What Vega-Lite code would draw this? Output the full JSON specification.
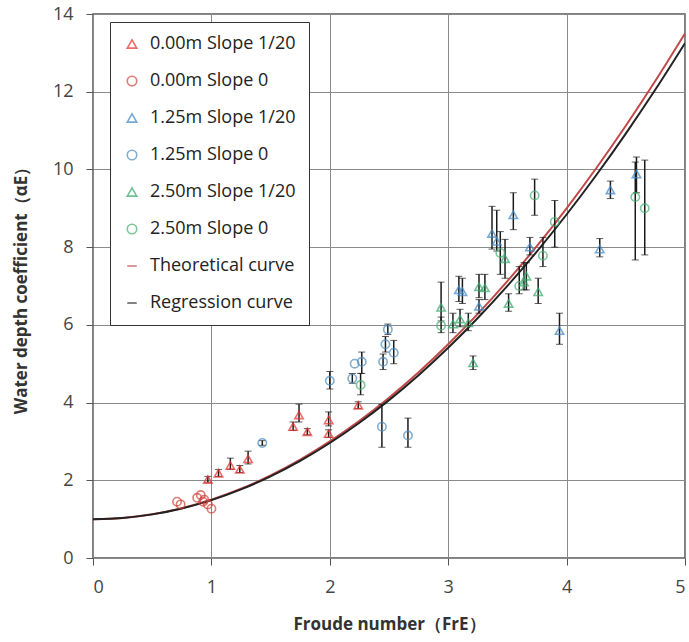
{
  "$schema": "https://vega.github.io/schema/vega-lite/v6.json",
  "width": 592,
  "height": 544,
  "autosize": {"type": "none"},
  "padding": {"left": 93, "top": 14, "right": 4, "bottom": 84},
  "background": "white",
  "config": {
    "font": "Open Sans",
    "view": {"stroke": "#555555", "strokeWidth": 1.5},
    "axis": {
      "domain": false,
      "gridColor": "#8a8a8a",
      "gridWidth": 1,
      "gridOpacity": 1,
      "tickColor": "#555555",
      "tickSize": 7,
      "labelFontSize": 18,
      "labelColor": "#444444",
      "labelPadding": 13,
      "titleFontSize": 17,
      "titleFontWeight": "bold",
      "titleColor": "#333333"
    },
    "axisX": {"titlePadding": 20},
    "axisY": {"titlePadding": 22},
    "legend": {
      "orient": "none",
      "legendX": 17,
      "legendY": 8,
      "padding": 13,
      "strokeColor": "#333333",
      "fillColor": "white",
      "labelFontSize": 18,
      "labelColor": "#222222",
      "labelOffset": 9,
      "rowPadding": 19,
      "symbolSize": 90,
      "symbolStrokeWidth": 1.6,
      "labelLimit": 300
    }
  },
  "datasets": {
    "pts": [
      {"fr": 0.97, "a": 2.02, "lo": 1.95, "hi": 2.1, "series": "0.00m Slope 1/20"},
      {"fr": 1.06, "a": 2.18, "lo": 2.1, "hi": 2.28, "series": "0.00m Slope 1/20"},
      {"fr": 1.16, "a": 2.38, "lo": 2.28, "hi": 2.57, "series": "0.00m Slope 1/20"},
      {"fr": 1.24, "a": 2.28, "lo": 2.2, "hi": 2.38, "series": "0.00m Slope 1/20"},
      {"fr": 1.31, "a": 2.55, "lo": 2.42, "hi": 2.75, "series": "0.00m Slope 1/20"},
      {"fr": 1.69, "a": 3.38, "lo": 3.28, "hi": 3.5, "series": "0.00m Slope 1/20"},
      {"fr": 1.74, "a": 3.68, "lo": 3.5, "hi": 3.96, "series": "0.00m Slope 1/20"},
      {"fr": 1.81, "a": 3.25, "lo": 3.17, "hi": 3.33, "series": "0.00m Slope 1/20"},
      {"fr": 1.99, "a": 3.55, "lo": 3.4, "hi": 3.76, "series": "0.00m Slope 1/20"},
      {"fr": 1.99, "a": 3.2, "lo": 3.1, "hi": 3.3, "series": "0.00m Slope 1/20"},
      {"fr": 2.24, "a": 3.93, "lo": 3.85, "hi": 4.02, "series": "0.00m Slope 1/20"},
      {"fr": 0.71, "a": 1.45, "lo": null, "hi": null, "series": "0.00m Slope 0"},
      {"fr": 0.74, "a": 1.38, "lo": null, "hi": null, "series": "0.00m Slope 0"},
      {"fr": 0.88, "a": 1.55, "lo": null, "hi": null, "series": "0.00m Slope 0"},
      {"fr": 0.91, "a": 1.62, "lo": null, "hi": null, "series": "0.00m Slope 0"},
      {"fr": 0.94, "a": 1.5, "lo": null, "hi": null, "series": "0.00m Slope 0"},
      {"fr": 0.93, "a": 1.45, "lo": null, "hi": null, "series": "0.00m Slope 0"},
      {"fr": 0.97, "a": 1.38, "lo": null, "hi": null, "series": "0.00m Slope 0"},
      {"fr": 1.0, "a": 1.27, "lo": null, "hi": null, "series": "0.00m Slope 0"},
      {"fr": 3.09, "a": 6.9, "lo": 6.6, "hi": 7.25, "series": "1.25m Slope 1/20"},
      {"fr": 3.12, "a": 6.85, "lo": 6.55, "hi": 7.2, "series": "1.25m Slope 1/20"},
      {"fr": 3.26, "a": 6.48, "lo": 6.3, "hi": 6.65, "series": "1.25m Slope 1/20"},
      {"fr": 3.37, "a": 8.35, "lo": 7.95, "hi": 9.05, "series": "1.25m Slope 1/20"},
      {"fr": 3.41, "a": 8.15, "lo": 7.9, "hi": 8.95, "series": "1.25m Slope 1/20"},
      {"fr": 3.55, "a": 8.83, "lo": 8.45, "hi": 9.4, "series": "1.25m Slope 1/20"},
      {"fr": 3.69, "a": 8.0, "lo": 7.8, "hi": 8.25, "series": "1.25m Slope 1/20"},
      {"fr": 3.94, "a": 5.85, "lo": 5.5, "hi": 6.3, "series": "1.25m Slope 1/20"},
      {"fr": 4.28, "a": 7.95, "lo": 7.75, "hi": 8.22, "series": "1.25m Slope 1/20"},
      {"fr": 4.37, "a": 9.47, "lo": 9.25, "hi": 9.7, "series": "1.25m Slope 1/20"},
      {"fr": 4.59, "a": 9.88, "lo": 9.4, "hi": 10.32, "series": "1.25m Slope 1/20"},
      {"fr": 1.43, "a": 2.96, "lo": 2.9, "hi": 3.02, "series": "1.25m Slope 0"},
      {"fr": 2.0, "a": 4.56, "lo": 4.35, "hi": 4.8, "series": "1.25m Slope 0"},
      {"fr": 2.19, "a": 4.62, "lo": 4.5, "hi": 4.75, "series": "1.25m Slope 0"},
      {"fr": 2.21, "a": 5.0, "lo": null, "hi": null, "series": "1.25m Slope 0"},
      {"fr": 2.27, "a": 5.05, "lo": 4.75, "hi": 5.3, "series": "1.25m Slope 0"},
      {"fr": 2.45, "a": 5.05, "lo": 4.85, "hi": 5.25, "series": "1.25m Slope 0"},
      {"fr": 2.47, "a": 5.5, "lo": 5.3, "hi": 5.7, "series": "1.25m Slope 0"},
      {"fr": 2.49, "a": 5.88, "lo": 5.75, "hi": 6.02, "series": "1.25m Slope 0"},
      {"fr": 2.54, "a": 5.28, "lo": 5.0, "hi": 5.6, "series": "1.25m Slope 0"},
      {"fr": 2.44, "a": 3.38, "lo": 2.85, "hi": 3.95, "series": "1.25m Slope 0"},
      {"fr": 2.66, "a": 3.15, "lo": 2.85, "hi": 3.6, "series": "1.25m Slope 0"},
      {"fr": 2.94, "a": 6.45, "lo": 6.1, "hi": 7.1, "series": "2.50m Slope 1/20"},
      {"fr": 3.04, "a": 6.02, "lo": 5.8, "hi": 6.3, "series": "2.50m Slope 1/20"},
      {"fr": 3.1, "a": 6.15, "lo": 5.95, "hi": 6.4, "series": "2.50m Slope 1/20"},
      {"fr": 3.17, "a": 6.05, "lo": 5.85, "hi": 6.3, "series": "2.50m Slope 1/20"},
      {"fr": 3.21, "a": 5.02, "lo": 4.85, "hi": 5.2, "series": "2.50m Slope 1/20"},
      {"fr": 3.26, "a": 6.98, "lo": 6.7, "hi": 7.3, "series": "2.50m Slope 1/20"},
      {"fr": 3.31, "a": 6.95, "lo": 6.65, "hi": 7.3, "series": "2.50m Slope 1/20"},
      {"fr": 3.48, "a": 7.7, "lo": 7.2, "hi": 8.2, "series": "2.50m Slope 1/20"},
      {"fr": 3.51, "a": 6.55, "lo": 6.35, "hi": 6.8, "series": "2.50m Slope 1/20"},
      {"fr": 3.64, "a": 7.1, "lo": 6.9, "hi": 7.6, "series": "2.50m Slope 1/20"},
      {"fr": 3.66, "a": 7.25, "lo": 6.9, "hi": 7.6, "series": "2.50m Slope 1/20"},
      {"fr": 3.76, "a": 6.85, "lo": 6.55, "hi": 7.2, "series": "2.50m Slope 1/20"},
      {"fr": 2.26, "a": 4.45, "lo": 4.2, "hi": 4.75, "series": "2.50m Slope 0"},
      {"fr": 2.94, "a": 5.98, "lo": 5.8, "hi": 6.2, "series": "2.50m Slope 0"},
      {"fr": 3.44, "a": 7.85, "lo": 7.3, "hi": 8.4, "series": "2.50m Slope 0"},
      {"fr": 3.6, "a": 7.0, "lo": 6.8, "hi": 7.5, "series": "2.50m Slope 0"},
      {"fr": 3.73, "a": 9.33, "lo": 8.82, "hi": 9.75, "series": "2.50m Slope 0"},
      {"fr": 3.8, "a": 7.78, "lo": 7.5, "hi": 8.25, "series": "2.50m Slope 0"},
      {"fr": 3.9, "a": 8.65, "lo": 8.0, "hi": 9.2, "series": "2.50m Slope 0"},
      {"fr": 4.58, "a": 9.29, "lo": 7.67, "hi": 10.19, "series": "2.50m Slope 0"},
      {"fr": 4.66, "a": 9.0, "lo": 7.8, "hi": 10.24, "series": "2.50m Slope 0"}
    ],
    "curves": [
      {"fr": 0, "a": 1.0, "series": "Theoretical curve"},
      {"fr": 0.25, "a": 1.031, "series": "Theoretical curve"},
      {"fr": 0.5, "a": 1.125, "series": "Theoretical curve"},
      {"fr": 0.75, "a": 1.281, "series": "Theoretical curve"},
      {"fr": 1.0, "a": 1.5, "series": "Theoretical curve"},
      {"fr": 1.25, "a": 1.781, "series": "Theoretical curve"},
      {"fr": 1.5, "a": 2.125, "series": "Theoretical curve"},
      {"fr": 1.75, "a": 2.531, "series": "Theoretical curve"},
      {"fr": 2.0, "a": 3.0, "series": "Theoretical curve"},
      {"fr": 2.25, "a": 3.531, "series": "Theoretical curve"},
      {"fr": 2.5, "a": 4.125, "series": "Theoretical curve"},
      {"fr": 2.75, "a": 4.781, "series": "Theoretical curve"},
      {"fr": 3.0, "a": 5.5, "series": "Theoretical curve"},
      {"fr": 3.25, "a": 6.281, "series": "Theoretical curve"},
      {"fr": 3.5, "a": 7.125, "series": "Theoretical curve"},
      {"fr": 3.75, "a": 8.031, "series": "Theoretical curve"},
      {"fr": 4.0, "a": 9.0, "series": "Theoretical curve"},
      {"fr": 4.25, "a": 10.031, "series": "Theoretical curve"},
      {"fr": 4.5, "a": 11.125, "series": "Theoretical curve"},
      {"fr": 4.75, "a": 12.281, "series": "Theoretical curve"},
      {"fr": 5.0, "a": 13.5, "series": "Theoretical curve"},
      {"fr": 0, "a": 1.0, "series": "Regression curve"},
      {"fr": 0.25, "a": 1.031, "series": "Regression curve"},
      {"fr": 0.5, "a": 1.123, "series": "Regression curve"},
      {"fr": 0.75, "a": 1.276, "series": "Regression curve"},
      {"fr": 1.0, "a": 1.49, "series": "Regression curve"},
      {"fr": 1.25, "a": 1.766, "series": "Regression curve"},
      {"fr": 1.5, "a": 2.103, "series": "Regression curve"},
      {"fr": 1.75, "a": 2.501, "series": "Regression curve"},
      {"fr": 2.0, "a": 2.96, "series": "Regression curve"},
      {"fr": 2.25, "a": 3.481, "series": "Regression curve"},
      {"fr": 2.5, "a": 4.063, "series": "Regression curve"},
      {"fr": 2.75, "a": 4.706, "series": "Regression curve"},
      {"fr": 3.0, "a": 5.41, "series": "Regression curve"},
      {"fr": 3.25, "a": 6.176, "series": "Regression curve"},
      {"fr": 3.5, "a": 7.003, "series": "Regression curve"},
      {"fr": 3.75, "a": 7.891, "series": "Regression curve"},
      {"fr": 4.0, "a": 8.84, "series": "Regression curve"},
      {"fr": 4.25, "a": 9.851, "series": "Regression curve"},
      {"fr": 4.5, "a": 10.923, "series": "Regression curve"},
      {"fr": 4.75, "a": 12.056, "series": "Regression curve"},
      {"fr": 5.0, "a": 13.25, "series": "Regression curve"}
    ]
  },
  "layer": [
    {
      "data": {"name": "curves"},
      "mark": {"type": "line", "interpolate": "monotone", "strokeWidth": 2, "clip": true},
      "encoding": {
        "x": {"field": "fr", "type": "quantitative", "scale": {"domain": [0, 5]}, "title": "Froude number（FrE）", "axis": {"values": [0, 1, 2, 3, 4, 5]}},
        "y": {"field": "a", "type": "quantitative", "scale": {"domain": [0, 14]}, "title": "Water depth coefficient（αE）", "axis": {"values": [0, 2, 4, 6, 8, 10, 12, 14]}},
        "color": {"field": "series", "type": "nominal", "title": null},
        "detail": {"field": "series"}
      }
    },
    {
      "data": {"name": "pts"},
      "transform": [{"filter": "datum.lo != null"}],
      "mark": {"type": "errorbar", "ticks": {"size": 7, "color": "#1a1a1a"}, "rule": {"color": "#1a1a1a", "strokeWidth": 1.5}},
      "encoding": {
        "x": {"field": "fr", "type": "quantitative", "title": "Froude number（FrE）", "axis": {"values": [0, 1, 2, 3, 4, 5]}},
        "y": {"field": "lo", "type": "quantitative", "title": "Water depth coefficient（αE）", "axis": {"values": [0, 2, 4, 6, 8, 10, 12, 14]}},
        "y2": {"field": "hi"}
      }
    },
    {
      "data": {"name": "pts"},
      "mark": {"type": "point", "filled": false, "size": 70, "strokeWidth": 1.6},
      "encoding": {
        "x": {"field": "fr", "type": "quantitative", "title": "Froude number（FrE）", "axis": {"values": [0, 1, 2, 3, 4, 5]}},
        "y": {"field": "a", "type": "quantitative", "title": "Water depth coefficient（αE）", "axis": {"values": [0, 2, 4, 6, 8, 10, 12, 14]}},
        "color": {
          "field": "series", "type": "nominal", "title": null,
          "scale": {
            "domain": ["0.00m Slope 1/20", "0.00m Slope 0", "1.25m Slope 1/20", "1.25m Slope 0", "2.50m Slope 1/20", "2.50m Slope 0", "Theoretical curve", "Regression curve"],
            "range": ["#e8302c", "#d0443a", "#3d86c6", "#4a8cc0", "#35a86a", "#45b070", "#c24848", "#222222"]
          }
        },
        "shape": {
          "field": "series", "type": "nominal", "title": null,
          "scale": {
            "domain": ["0.00m Slope 1/20", "0.00m Slope 0", "1.25m Slope 1/20", "1.25m Slope 0", "2.50m Slope 1/20", "2.50m Slope 0", "Theoretical curve", "Regression curve"],
            "range": ["triangle-up", "circle", "triangle-up", "circle", "triangle-up", "circle", "stroke", "stroke"]
          }
        }
      }
    }
  ]
}
